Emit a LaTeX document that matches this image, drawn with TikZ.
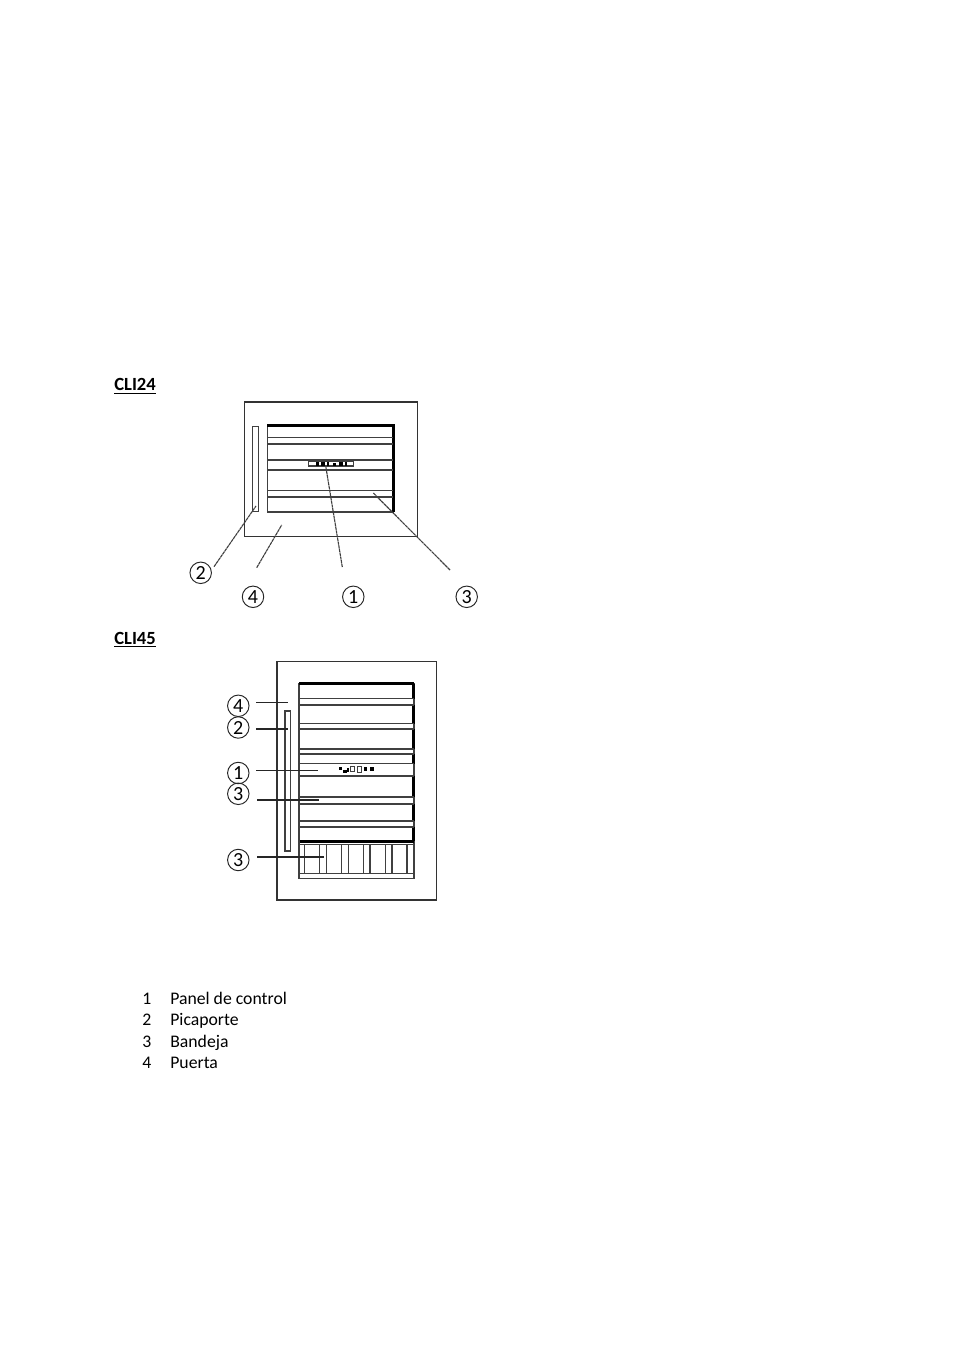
\documentclass[tikz,border=0pt]{standalone}
\usepackage{fontspec}
\setmainfont{Carlito}
\tikzset{
  frame/.style={draw=black!80,line width=0.7pt},
  rail/.style={draw=black!75,line width=0.85pt},
  heavy/.style={draw=black,line width=1.3pt},
  leader/.style={draw=black!75,line width=0.7pt,dash pattern=on 2pt off 0.35pt},
  pointer/.style={draw=black!85,line width=0.65pt},
  callout/.style={draw=black!85,circle,line width=0.6pt,minimum size=13.4pt,inner sep=0pt,font=\fontsize{12.5}{13}\selectfont},
  heading/.style={anchor=base west,inner sep=0pt,font=\bfseries\fontsize{11.6}{13}\selectfont},
  legend/.style={anchor=base west,inner sep=0pt,font=\fontsize{11.05}{13}\selectfont},
  pixel/.style={fill=black,draw=none}
}
\begin{document}
\begin{tikzpicture}[x=0.624pt,y=-0.624pt]
   \useasboundingbox (0,0) rectangle (954,1351);
   % first cabinet
   \node[heading] (title24) at (114,391) {\underline{CLI24}};
   \draw[frame] (244.5,402) rectangle (417.5,536.5);
   \draw[rail] (252.5,426.5) rectangle (258.5,511.5);
   \draw[rail] (267.5,425.5) rectangle (393.5,512);
   \draw[heavy] (267,425.5) -- (393.5,425.5) -- (393.5,512);
   \draw[rail] (268,437.5) -- (393,437.5);
   \draw[rail] (268,444) -- (393,444);
   \draw[rail] (268,460) -- (393,460);
   \draw[rail] (268,470) -- (393,470);
   \draw[rail] (268,490.5) -- (393,490.5);
   \draw[rail] (268,497) -- (393,497);
   \draw[rail,fill=white] (308.5,461.5) rectangle (353.5,466);
   \fill[pixel] (316,461.5) rectangle (319,466);
   \fill[pixel] (321,461.5) rectangle (325,466);
   \fill[pixel] (327,462) rectangle (329,466);
   \fill[pixel] (333,462.5) rectangle (336,466);
   \fill[pixel] (339,461.5) rectangle (343,466);
   \fill[pixel] (345,461.5) rectangle (347,466);
   % its callouts
   \node[callout] (one24) at (353.3,596.8) {1};
   \node[callout] (two24) at (200.7,572.8) {2};
   \node[callout] (three24) at (466.7,596.8) {3};
   \node[callout] (four24) at (253,596.8) {4};
   \coordinate (one24a) at (342.3,567);
   \coordinate (one24b) at (325.7,466);
   \coordinate (two24a) at (214,566.7);
   \coordinate (two24b) at (256,506);
   \coordinate (three24a) at (450,570);
   \coordinate (three24b) at (373.3,493);
   \coordinate (four24a) at (256.7,567.7);
   \coordinate (four24b) at (281.7,525);
   \draw[leader] (one24a) -- (one24b);
   \draw[leader] (two24a) -- (two24b);
   \draw[leader] (three24a) -- (three24b);
   \draw[leader] (four24a) -- (four24b);
   % second cabinet
   \node[heading] (title45) at (114,644) {\underline{CLI45}};
   \draw[frame] (277,661.5) rectangle (436.5,900);
   \draw[rail] (285,711) rectangle (290.5,851);
   \draw[rail] (299,683.5) rectangle (414,878.5);
   \draw[heavy] (299,683.5) -- (414,683.5);
   \draw[heavy] (413.5,683.5) -- (413.5,698.5);
   \draw[heavy] (413.5,705) -- (413.5,723.5);
   \draw[heavy] (413.5,729) -- (413.5,749);
   \draw[heavy] (413.5,754) -- (413.5,763.5);
   \draw[heavy] (413.5,776) -- (413.5,797);
   \draw[heavy] (413.5,804) -- (413.5,821);
   \draw[heavy] (413.5,827) -- (413.5,841);
   \draw[rail] (299.5,698.5) -- (413.5,698.5);
   \draw[rail] (299.5,705) -- (413.5,705);
   \draw[rail] (299.5,723.5) -- (413.5,723.5);
   \draw[rail] (299.5,729) -- (413.5,729);
   \draw[rail] (299.5,749) -- (413.5,749);
   \draw[rail] (299.5,754) -- (413.5,754);
   \draw[rail] (299.5,763.5) -- (413.5,763.5);
   \draw[rail] (299.5,776) -- (413.5,776);
   \draw[rail] (299.5,797) -- (413.5,797);
   \draw[rail] (299.5,804) -- (413.5,804);
   \draw[rail] (299.5,821) -- (413.5,821);
   \draw[rail] (299.5,827) -- (413.5,827);
   \draw[heavy] (299.5,841.5) -- (414,841.5);
   \draw[rail] (299.5,844.5) -- (414,844.5);
   \draw[rail] (299.5,873.5) -- (414,873.5);
   \foreach \slat in {304.5,319.5,326.5,341.5,348.5,363.5,370,385.5,392,407}
      \draw[rail] (\slat,844.5) -- (\slat,873.5);
   \fill[pixel] (339,767) rectangle (342,770);
   \fill[pixel] (343,770) rectangle (347,773);
   \fill[pixel] (347,767.5) rectangle (349,772);
   \draw[rail,line width=0.6pt] (350.5,766) rectangle (354.5,771.5);
   \draw[rail,line width=0.6pt] (357.5,766) rectangle (361,772.5);
   \fill[pixel] (364,767) rectangle (367,771);
   \fill[pixel] (370,767) rectangle (374,771);
   % its callouts
   \node[callout] (four45) at (238.3,705.8) {4};
   \node[callout] (two45) at (238.3,727.5) {2};
   \node[callout] (one45) at (238.3,773) {1};
   \node[callout] (three45a) at (238.3,793.8) {3};
   \node[callout] (three45b) at (238.3,860) {3};
   \coordinate (four45a) at (256,702.3);
   \coordinate (four45b) at (287.7,702.3);
   \coordinate (two45a) at (256,729);
   \coordinate (two45b) at (288,729);
   \coordinate (one45a) at (256,770.7);
   \coordinate (one45b) at (317.5,770.7);
   \coordinate (three45c) at (257.3,800);
   \coordinate (three45d) at (319.3,800);
   \coordinate (three45e) at (257.3,857);
   \coordinate (three45f) at (324,857);
   \draw[pointer] (four45a) -- (four45b);
   \draw[pointer] (two45a) -- (two45b);
   \draw[pointer] (one45a) -- (one45b);
   \draw[pointer] (three45c) -- (three45d);
   \draw[pointer] (three45e) -- (three45f);
   % legend
   \node[legend] (num1) at (142,1004) {1};
   \node[legend] (num2) at (142,1025) {2};
   \node[legend] (num3) at (142,1047) {3};
   \node[legend] (num4) at (142,1068) {4};
   \node[legend] (txt1) at (170,1004) {Panel de control};
   \node[legend] (txt2) at (170,1025) {Picaporte};
   \node[legend] (txt3) at (170,1047) {Bandeja};
   \node[legend] (txt4) at (170,1068) {Puerta};
\end{tikzpicture}
\end{document}
